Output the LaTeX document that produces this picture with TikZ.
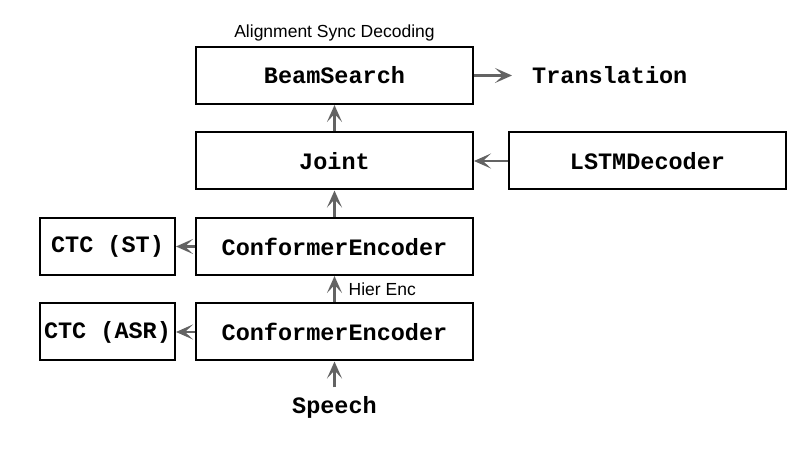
\documentclass[tikz,border=0pt]{standalone}
\usepackage{fontspec}
\setmainfont{Liberation Sans}
\setmonofont{Liberation Mono}
\usetikzlibrary{positioning,arrows.meta}
\definecolor{arrowgray}{HTML}{636363}
\tikzset{
  block/.style={draw,line width=2pt,minimum width=277pt,minimum height=57pt,inner sep=0pt,
    font=\fontsize{23.5}{28}\selectfont\ttfamily\bfseries},
  ctcblock/.style={block,minimum width=135pt},
  word/.style={inner sep=0pt,font=\fontsize{23.5}{28}\selectfont\ttfamily\bfseries},
  note/.style={inner sep=0pt,text=black,font=\fontsize{17.5}{21}\selectfont},
  every edge/.style={draw,arrowgray,line width=2.4pt,-{Stealth[length=17pt,width=15pt,inset=8pt]}},
}

\begin{document}
\begin{tikzpicture}[node distance=26.5pt]
\useasboundingbox (0,0) rectangle (812pt,470pt);

\node[block] (beam) at (334.5pt,394.5pt) {BeamSearch};
\node[block,below=of beam] (joint) {Joint};
\node[block,below=of joint] (enc2) {ConformerEncoder};
\node[block,below=of enc2] (enc1) {ConformerEncoder};
\node[block,right=34pt of joint] (lstm) {LSTMDecoder};
\node[ctcblock,left=19pt of enc2] (ctcst) {CTC (ST)};
\node[ctcblock,left=19pt of enc1] (ctcasr) {CTC (ASR)};
\node[word,right=58pt of beam] (trans) {Translation};
\node[word,below=35pt of enc1,anchor=north] (speech) {Speech};
\node[note,above=5pt of beam] (align) {Alignment Sync Decoding};

\path
(beam) edge[shorten >=20pt] (trans)
(joint) edge (beam)
(lstm) edge (joint)
(enc2) edge (joint)
(enc2) edge (ctcst)
(enc1) edge node[note,right=13pt] {Hier Enc} (enc2)
(enc1) edge (ctcasr)
(speech) edge[shorten <=9pt] (enc1);

\end{tikzpicture}
\end{document}
